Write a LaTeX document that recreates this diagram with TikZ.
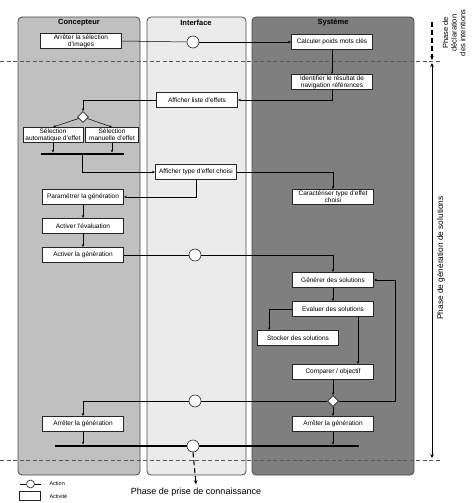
\documentclass[tikz,border=0pt]{standalone}
\usepackage{fontspec}
\setmainfont{Liberation Sans}
\usetikzlibrary{positioning, shapes.geometric, arrows.meta, calc}
\definecolor{laneA}{HTML}{C0C0C0}
\definecolor{laneB}{HTML}{EBEBEB}
\definecolor{laneC}{HTML}{7F7F7F}
\definecolor{bord}{HTML}{4A4A4A}

\begin{document}
\begin{tikzpicture}[x=1pt, y=-1pt,
  activite/.style={draw=black!85, fill=white, line width=0.8pt, inner sep=1pt,
    minimum width=81pt, minimum height=15pt, align=center,
    font=\fontsize{6.5}{7}\selectfont},
  action/.style={circle, draw=black!85, fill=white, line width=0.6pt,
    minimum size=12pt, inner sep=0pt},
  decision/.style={diamond, draw=black!85, fill=white, line width=0.6pt,
    minimum size=11pt, inner sep=0pt},
  barre/.style={fill=black, inner sep=0pt, minimum height=2.4pt},
  fleche/.style={-{Stealth[length=3pt, width=2.4pt]}, line width=0.5pt},
  couloir/.style={draw=bord, line width=0.8pt, rounded corners=4pt},
  titre/.style={font=\fontsize{7.5}{8.5}\selectfont\bfseries},
  phase/.style={draw=black!65, line width=0.8pt, dash pattern=on 4pt off 2.5pt}]
  \useasboundingbox (0,0) rectangle (474,503);

  % Couloirs
  \draw[couloir, fill=laneA] (18,17) rectangle (140,475);
  \draw[couloir, fill=laneB] (147,17) rectangle (246,475);
  \draw[couloir, fill=laneC] (252,17) rectangle (414,475);
  \node[titre] (tconc) at (79,23) {Concepteur};
  \node[titre] (tint) at (196,23) {Interface};
  \node[titre] (tsys) at (333,23) {Système};

  % Limites de phases
  \coordinate (h1a) at (0,61);   \coordinate (h1b) at (440,61);
  \coordinate (h2a) at (0,460);  \coordinate (h2b) at (440,460);
  \draw[phase] (h1a) -- (h1b);
  \draw[phase] (h2a) -- (h2b);

  % Phase de declaration des intentions
  \node[activite] (arretsel) at (81,41) {Arrêter la sélection\\d'images};
  \node[action] (act1) at (193,42) {};
  \node[activite] (calcul) at (332,42) {Calculer poids mots clés};
  \node[activite] (identif) at (332,82) {Identifier le résultat de\\navigation références};
  \node[activite] (liste) at (197,100) {Afficher liste d'effets};
  \node[decision] (dec1) at (83,117) {};
  \node[activite, minimum width=60pt] (selauto) at (53,135) {Sélection\\automatique d'effet};
  \node[activite, minimum width=53pt] (selman) at (112,135) {Sélection\\manuelle d'effet};
  \node[barre, minimum width=83pt] (barre1) at (82.5,154) {};
  \node[activite] (type) at (196,172) {Afficher type d'effet choisi};
  \node[activite] (caract) at (333,197) {Caractériser type d'effet\\choisi};
  \node[activite] (param) at (83,197) {Paramétrer la génération};
  \node[activite] (evalact) at (83,226) {Activer l'évaluation};
  \node[activite] (activgen) at (83,255) {Activer la génération};
  \node[action] (act2) at (195,255) {};

  % Generation
  \node[activite] (generer) at (333,280) {Générer des solutions};
  \node[activite] (evaluer) at (333,309) {Evaluer des solutions};
  \node[activite] (stocker) at (298,338) {Stocker des solutions};
  \node[activite] (comparer) at (333,372) {Comparer / objectif};
  \node[decision] (dec2) at (333,401) {};
  \coordinate (boucle) at (395,401);
  \node[action] (act3) at (195,401) {};
  \node[activite] (arretg) at (83,424) {Arrêter la génération};
  \node[activite] (arretd) at (333,424) {Arrêter la génération};
  \node[barre, minimum width=304pt] (barre2) at (207,446) {};
  \node[action] (act4) at (193,446) {};

  % Connecteurs
  \draw[line width=0.5pt] (arretsel.east) -- (act1.west);
  \draw[fleche] (act1.east) -- (calcul.west);
  \draw[fleche] (calcul) -- (identif);
  \draw[fleche] (identif.south) |- (liste.east);
  \draw[fleche] (liste.west) -| (dec1.north);
  \draw[fleche] (dec1) -- (selauto.north);
  \draw[fleche] (dec1) -- (selman.north);
  \draw[fleche] (selauto) -- (selauto |- barre1.north);
  \draw[fleche] (selman) -- (selman |- barre1.north);
  \draw[fleche] (barre1.south) |- (type.west);
  \draw[fleche] (type.east) -| (caract.north);
  \draw[fleche] (type.south) |- (param.east);
  \draw[fleche] (param) -- (evalact);
  \draw[fleche] (evalact) -- (activgen);
  \draw[line width=0.5pt] (activgen.east) -- (act2.west);
  \draw[fleche] (act2.east) -| (generer.north);
  \draw[fleche] (generer) -- (evaluer);
  \draw[fleche] (evaluer.west) -| ([xshift=12pt]stocker.north west);
  \draw[fleche] ([xshift=25pt]evaluer.south) -- ([xshift=25pt]comparer.north);
  \draw[fleche] (comparer) -- (dec2);
  \draw[fleche] (dec2.east) -- (boucle) |- (generer.east);
  \draw[line width=0.5pt] (dec2.west) -- (act3.east);
  \draw[fleche] (act3.west) -| (arretg.north);
  \draw[fleche] (dec2.south) -- (arretd.north);
  \draw[fleche] (arretg) -- (arretg |- barre2.north);
  \draw[fleche] (arretd) -- (arretd |- barre2.north);

  % Phases
  \node[font=\fontsize{9}{10}\selectfont] (prise) at (196,492) {Phase de prise de connaissance};
  \draw[line width=1.1pt, dash pattern=on 5pt off 3pt, -{Stealth[length=4pt, width=3.5pt]}]
    (act4.south) -- (prise.north);
  \coordinate (v1) at (432,22);  \coordinate (v2) at (432,60);
  \coordinate (v3) at (432,63);  \coordinate (v4) at (432,458);
  \draw[line width=1.1pt, dash pattern=on 5pt off 3pt, -{Stealth[length=4pt, width=3.5pt]}] (v1) -- (v2);
  \draw[line width=1pt, {Stealth[length=4pt, width=3.5pt]}-{Stealth[length=4pt, width=3.5pt]}] (v3) -- (v4);
  \node[rotate=90, font=\fontsize{8.3}{9}\selectfont] (phasegen) at (441,258) {Phase de génération de solutions};
  \node[rotate=90, align=center, font=\fontsize{7.5}{8.6}\selectfont] (phasedecl) at (454,33)
    {Phase de\\déclaration\\des intentions};

  % Legende
  \coordinate (la) at (20,484);  \coordinate (lb) at (41,484);
  \node[action, minimum size=8pt] (legact) at (30.5,484) {};
  \draw[line width=0.5pt] (la) -- (legact.west);
  \draw[line width=0.5pt] (legact.east) -- (lb);
  \node[draw=black!85, line width=0.6pt, minimum width=21pt, minimum height=9pt, inner sep=0pt]
    (legbox) at (30,496) {};
  \node[anchor=west, font=\fontsize{5.5}{6}\selectfont] (tact) at (46,484) {Action};
  \node[anchor=west, font=\fontsize{5.5}{6}\selectfont] (tactiv) at (46,496) {Activité};
\end{tikzpicture}
\end{document}
